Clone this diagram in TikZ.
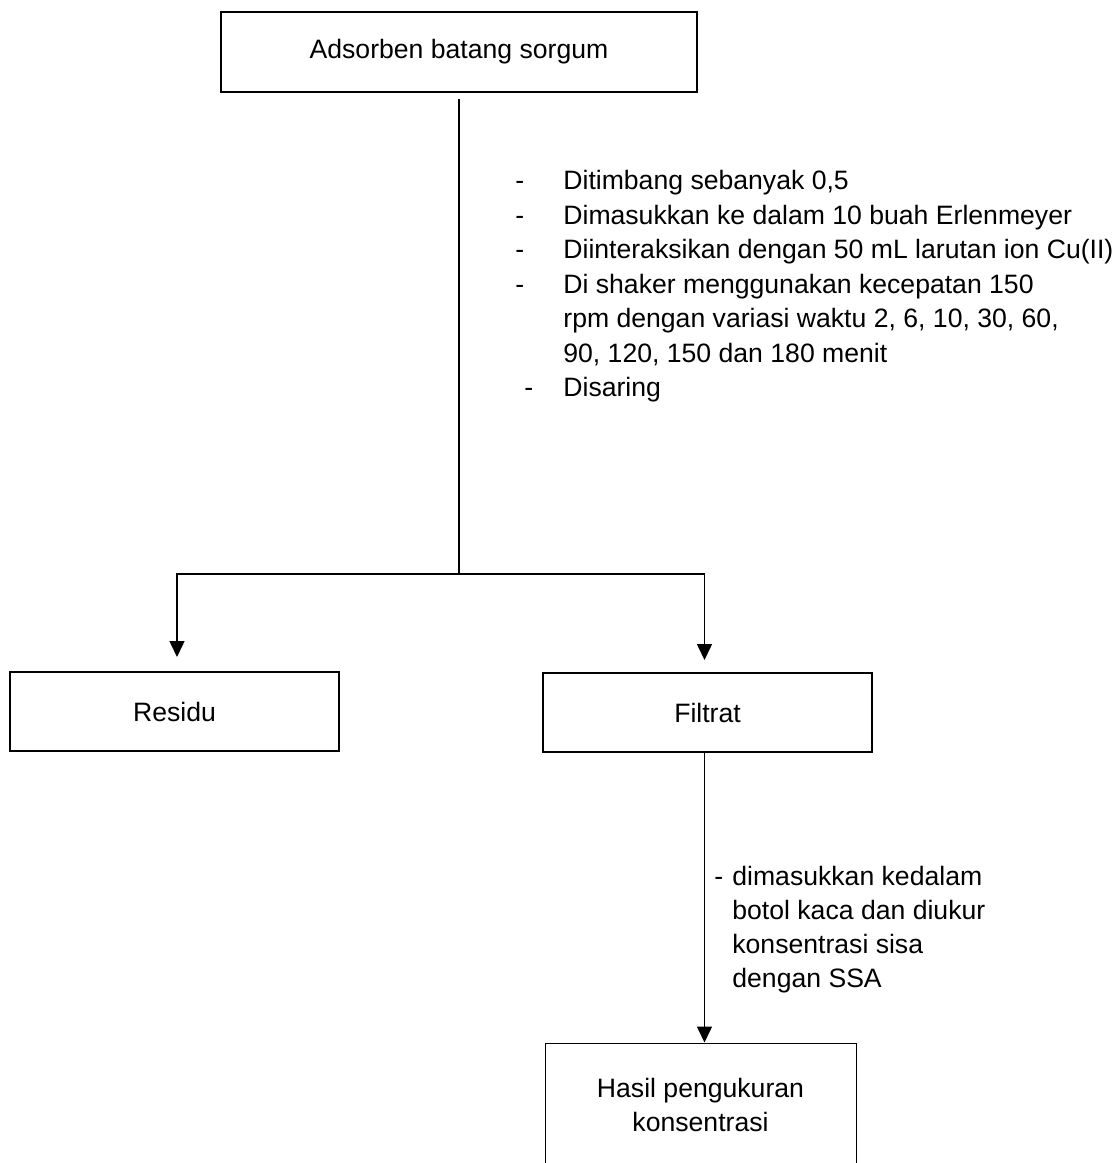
\documentclass[tikz,border=0pt]{standalone}
\usepackage{fontspec}
\setmainfont{Liberation Sans}
\usetikzlibrary{arrows.meta,positioning}
\tikzset{
  kotak/.style={draw=black,line width=1pt,inner sep=0pt,align=center,font=\fontsize{13.3}{17}\selectfont},
  kotaktipis/.style={draw=black,line width=0.5pt,inner sep=0pt,align=center,font=\fontsize{13.3}{17}\selectfont},
  garis/.style={line width=0.75pt},
  panah/.style={-{Triangle[length=8pt,width=7.5pt]},line width=0.75pt},
  catatan/.style={inner sep=0pt,align=left,font=\fontsize{13.3}{17.25}\selectfont}
}
\newcommand{\butir}[1]{\makebox[24pt][l]{-}#1}

\begin{document}
\begin{tikzpicture}[x=0.5pt,y=-0.5pt]
  \useasboundingbox (0,0) rectangle (1118,1163);
  \node[kotak,minimum width=238pt,minimum height=40pt] (adsorben) at (459,52) {Adsorben batang sorgum};
  \node[kotak,minimum width=164.5pt,minimum height=39.5pt] (residu) at (174.5,711.5) {Residu};
  \node[kotak,minimum width=164.5pt,minimum height=39.5pt] (filtrat) at (707.5,712.5) {Filtrat};
  \node[kotaktipis,minimum width=155.5pt,minimum height=62pt] (hasil) at (700.5,1105) {Hasil pengukuran\\konsentrasi};
  \coordinate (cabang) at (459,574);

  \node[catatan,anchor=north west] (langkah1) at (515,170)
    {\butir{Ditimbang sebanyak 0,5}\\
     \butir{Dimasukkan ke dalam 10 buah Erlenmeyer}\\
     \butir{Diinteraksikan dengan 50 mL larutan ion Cu(II)}\\
     \butir{Di shaker menggunakan kecepatan 150}\\
     \hspace*{24pt}rpm dengan variasi waktu 2, 6, 10, 30, 60,\\
     \hspace*{24pt}90, 120, 150 dan 180 menit\\
     \hspace*{4.5pt}\makebox[19.5pt][l]{-}Disaring};
  \node[catatan,anchor=north west,font=\fontsize{13.3}{17}\selectfont] (langkah2) at (714,866)
    {\makebox[9pt][l]{-}dimasukkan kedalam\\
     \hspace*{9pt}botol kaca dan diukur\\
     \hspace*{9pt}konsentrasi sisa\\
     \hspace*{9pt}dengan SSA};

  \draw[garis,shorten <=3pt] (adsorben.south) -- (cabang);
  \draw[panah,shorten >=7pt] (cabang) -| ([xshift=1.25pt]residu.north);
  \draw[panah,shorten >=6pt] (cabang) -| ([xshift=-1.5pt]filtrat.north);
  \draw[panah] ([xshift=-1.5pt]filtrat.south) -- ([xshift=-1.5pt]filtrat.south |- hasil.north);
\end{tikzpicture}
\end{document}
